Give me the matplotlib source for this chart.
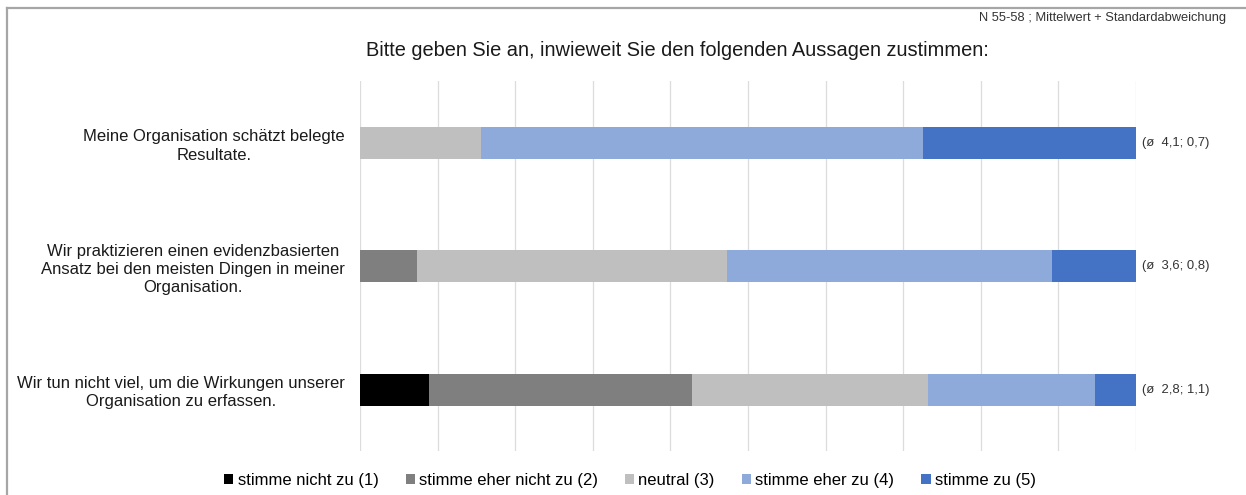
import matplotlib
matplotlib.use('Agg')
import matplotlib.pyplot as plt
from matplotlib.lines import Line2D
import numpy as np

plt.rcParams['font.family'] = ['Liberation Sans', 'DejaVu Sans']

statements = [
    'Meine Organisation schätzt belegte\nResultate.',
    'Wir praktizieren einen evidenzbasierten\nAnsatz bei den meisten Dingen in meiner\nOrganisation.',
    'Wir tun nicht viel, um die Wirkungen unserer\nOrganisation zu erfassen.',
]
answer_labels = ['stimme nicht zu (1)', 'stimme eher nicht zu (2)', 'neutral (3)',
                 'stimme eher zu (4)', 'stimme zu (5)']
# percent per answer, one list per statement
shares = [
    [0.0, 0.0, 15.6, 56.9, 27.5],
    [0.0, 7.3, 40.0, 41.9, 10.8],
    [8.9, 33.9, 30.4, 21.5, 5.3],
]
means = ['4,1', '3,6', '2,8']
stds = ['0,7', '0,8', '1,1']
colors = ['#000000', '#7f7f7f', '#bfbfbf', '#8eaadb', '#4472c4']

fig = plt.figure(figsize=(12.46, 4.95), dpi=100)
ax = fig.add_axes([360 / 1246, 1 - 451.4 / 495, 776 / 1246, (451.4 - 81.1) / 495])

data = np.array(shares)
y = np.arange(len(statements))
left = np.zeros(len(statements))
for j in range(len(answer_labels)):
    ax.barh(y, data[:, j], left=left, height=0.26, color=colors[j],
            label=answer_labels[j], zorder=3)
    left += data[:, j]

ax.set_xlim(0, 100)
ax.set_ylim(2.5, -0.5)
ax.set_xticks(np.arange(0, 101, 10))
ax.set_xticklabels([])
ax.tick_params(axis='x', length=0)
ax.tick_params(axis='y', length=0, pad=11)
ax.grid(axis='x', color='#dcdcdc', linewidth=0.9, zorder=0)
for s in ax.spines.values():
    s.set_visible(False)

ax.set_yticks(y)
ax.set_yticklabels(statements, fontsize=12, color='#1a1a1a')
for lbl in ax.get_yticklabels():
    lbl.set_multialignment('center')
    lbl.set_linespacing(1.27)

for i in range(len(statements)):
    ax.annotate('(ø  %s; %s)' % (means[i], stds[i]), xy=(100, y[i]),
                xytext=(4, 0), textcoords='offset points', va='center',
                ha='left', fontsize=9.4, color='#333333', annotation_clip=False)

fig.text(0.5 * (367 + 988) / 1246, 1 - 50 / 495,
         'Bitte geben Sie an, inwieweit Sie den folgenden Aussagen zustimmen:',
         ha='center', va='center', fontsize=14.4, color='#1a1a1a')
fig.text(1226 / 1246, 1 - 18 / 495, 'N 55-58 ; Mittelwert + Standardabweichung',
         ha='right', va='center', fontsize=9.3, color='#333333')

fig.legend(loc='center', bbox_to_anchor=(630 / 1246, 1 - 480 / 495), ncol=5,
           frameon=False, fontsize=12, handlelength=0.55, handleheight=0.55,
           handletextpad=0.25, columnspacing=1.63)

# grey frame at top and left
fig.add_artist(Line2D([7 / 1246, 7 / 1246], [0, 1 - 8 / 495], transform=fig.transFigure,
                      color='#a6a6a6', linewidth=1.6))
fig.add_artist(Line2D([7 / 1246, 1], [1 - 8 / 495, 1 - 8 / 495], transform=fig.transFigure,
                      color='#a6a6a6', linewidth=1.6))

fig.savefig('out.png', dpi=100)
